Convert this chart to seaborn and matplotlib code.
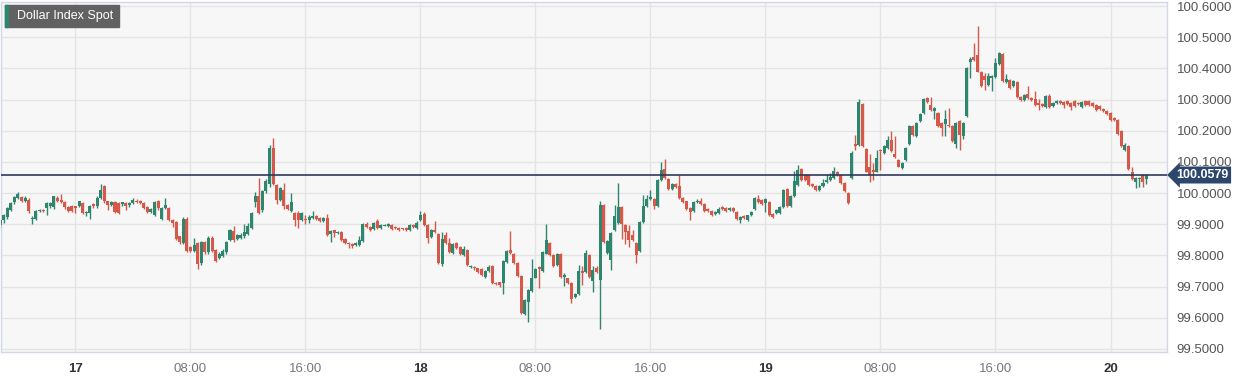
import numpy as np
import pandas as pd
import matplotlib
matplotlib.use('Agg')
import matplotlib.pyplot as plt
import matplotlib.transforms as mtransforms
from matplotlib.patches import Rectangle
import seaborn as sns

# 15분봉 OHLC (화면에서 읽은 값)
opens = [
    99.897, 99.913, 99.924, 99.946, 99.970, 99.984, 99.986, 99.973, 99.978, 99.917,
    99.918, 99.942, 99.946, 99.951, 99.957, 99.954, 99.984, 99.978, 99.970, 99.954,
    99.959, 99.957, 99.959, 99.967, 99.935, 99.937, 99.964, 99.957, 99.984, 100.022,
    99.973, 99.962, 99.970, 99.967, 99.965, 99.967, 99.962, 99.967, 99.976, 99.973,
    99.967, 99.954, 99.940, 99.929, 99.973, 99.918, 99.951, 99.951, 99.913, 99.908,
    99.861, 99.839, 99.918, 99.826, 99.815, 99.839, 99.777, 99.842, 99.810, 99.857,
    99.817, 99.793, 99.799, 99.810, 99.848, 99.878, 99.853, 99.857, 99.861, 99.870,
    99.889, 99.970, 99.989, 99.946, 100.005, 100.030, 100.145, 100.027, 99.978, 100.011,
    99.962, 99.943, 99.937, 99.935, 99.915, 99.918, 99.915,
    99.919, 99.925, 99.919, 99.909, 99.919, 99.868, 99.880, 99.871, 99.876, 99.852,
    99.841, 99.837, 99.833, 99.833, 99.847, 99.901, 99.892, 99.884, 99.909, 99.887,
    99.895, 99.895, 99.898, 99.892, 99.889, 99.887, 99.887, 99.882, 99.897, 99.887,
    99.914, 99.933, 99.898, 99.858, 99.882, 99.868, 99.772, 99.866, 99.839, 99.809,
    99.839, 99.826, 99.802, 99.817, 99.763, 99.763, 99.758, 99.755, 99.731, 99.751,
    99.767, 99.712, 99.713, 99.710, 99.780, 99.817, 99.806, 99.776, 99.733, 99.613,
    99.651, 99.686, 99.729, 99.763, 99.751, 99.806, 99.839, 99.801, 99.769, 99.806,
    99.731, 99.726, 99.712, 99.667, 99.677, 99.749, 99.747, 99.801, 99.718, 99.758,
    99.720, 99.962, 99.809, 99.785, 99.882, 99.903,
    99.954, 99.897, 99.878, 99.867, 99.839, 99.813, 99.908, 99.959, 99.980, 99.980,
    99.959, 100.041, 100.078, 100.046, 100.013, 100.030, 100.024, 99.984, 99.973, 99.951,
    99.942, 99.971, 99.976, 99.965, 99.948, 99.943, 99.933, 99.935, 99.954, 99.951,
    99.946, 99.951, 99.940, 99.913, 99.926, 99.913, 99.928, 99.948, 99.980, 99.978,
    99.967, 99.971, 99.933, 99.935, 99.935, 99.954, 100.013, 99.957, 99.991, 100.027,
    100.076, 100.057, 100.057, 100.029, 100.022, 100.011, 100.022, 100.035, 100.043, 100.049,
    100.067, 100.057, 100.033, 100.000,
    100.048, 100.158, 100.155, 100.285, 100.141, 100.085, 100.075, 100.069, 100.139, 100.128,
    100.144, 100.171, 100.126, 100.107, 100.080, 100.107, 100.158, 100.216, 100.182, 100.230,
    100.256, 100.304, 100.283, 100.262, 100.256, 100.224, 100.222, 100.219, 100.216, 100.158,
    100.230, 100.182, 100.246, 100.422, 100.436, 100.443, 100.390, 100.374, 100.347, 100.369,
    100.372, 100.415, 100.446, 100.355, 100.363, 100.342, 100.355, 100.308, 100.299, 100.318,
    100.304, 100.301, 100.288, 100.286, 100.276, 100.312, 100.280, 100.288, 100.294, 100.291,
    100.294, 100.288, 100.296, 100.288, 100.276, 100.294, 100.296, 100.288, 100.283, 100.278,
    100.269, 100.262, 100.256, 100.240, 100.235, 100.198, 100.137, 100.150, 100.066, 100.034,
    100.046, 100.059, 100.045,
]
highs = [
    99.916, 99.933, 99.955, 99.971, 99.991, 100.002, 99.990, 99.989, 99.984, 99.925,
    99.946, 99.949, 99.948, 99.970, 99.971, 99.991, 99.990, 99.998, 99.973, 99.958,
    99.962, 99.960, 99.976, 99.971, 99.944, 99.962, 99.967, 99.989, 100.030, 100.025,
    99.975, 99.975, 99.973, 99.970, 99.972, 99.970, 99.972, 99.984, 99.980, 99.978,
    99.970, 99.957, 99.952, 99.975, 99.978, 99.955, 99.984, 99.955, 99.916, 99.911,
    99.863, 99.922, 99.922, 99.830, 99.857, 99.842, 99.845, 99.845, 99.862, 99.862,
    99.820, 99.810, 99.820, 99.846, 99.885, 99.895, 99.870, 99.872, 99.900, 99.905,
    99.940, 100.002, 100.047, 100.010, 100.045, 100.155, 100.178, 100.030, 100.020, 100.033,
    99.965, 100.000, 99.940, 99.942, 99.940, 99.930, 99.930,
    99.944, 99.928, 99.922, 99.922, 99.932, 99.881, 99.883, 99.879, 99.879, 99.855,
    99.844, 99.840, 99.842, 99.862, 99.904, 99.906, 99.895, 99.906, 99.918, 99.901,
    99.900, 99.904, 99.901, 99.895, 99.892, 99.889, 99.890, 99.900, 99.900, 99.909,
    99.944, 99.938, 99.901, 99.885, 99.911, 99.871, 99.874, 99.874, 99.855, 99.840,
    99.844, 99.829, 99.830, 99.820, 99.769, 99.766, 99.761, 99.758, 99.752, 99.769,
    99.770, 99.715, 99.716, 99.786, 99.817, 99.878, 99.809, 99.779, 99.736, 99.661,
    99.693, 99.790, 99.759, 99.766, 99.813, 99.900, 99.842, 99.804, 99.809, 99.809,
    99.742, 99.729, 99.715, 99.680, 99.769, 99.767, 99.817, 99.804, 99.766, 99.767,
    99.973, 99.965, 99.849, 99.876, 99.961, 100.032,
    99.960, 99.900, 99.897, 99.880, 99.842, 99.911, 99.995, 99.995, 100.011, 99.983,
    100.044, 100.101, 100.109, 100.049, 100.033, 100.033, 100.057, 99.987, 99.976, 99.954,
    99.974, 99.980, 99.984, 99.968, 99.951, 99.946, 99.943, 99.955, 99.957, 99.954,
    99.955, 99.954, 99.943, 99.927, 99.929, 99.931, 99.943, 99.987, 99.995, 99.981,
    99.983, 99.974, 99.936, 99.949, 99.957, 100.012, 100.016, 99.994, 100.071, 100.089,
    100.079, 100.060, 100.060, 100.032, 100.025, 100.025, 100.046, 100.060, 100.063, 100.085,
    100.070, 100.060, 100.036, 100.003,
    100.134, 100.187, 100.302, 100.288, 100.144, 100.126, 100.098, 100.137, 100.142, 100.155,
    100.184, 100.200, 100.182, 100.110, 100.099, 100.147, 100.219, 100.219, 100.227, 100.256,
    100.304, 100.307, 100.308, 100.275, 100.259, 100.227, 100.267, 100.272, 100.219, 100.229,
    100.233, 100.229, 100.404, 100.438, 100.483, 100.536, 100.393, 100.385, 100.385, 100.379,
    100.433, 100.454, 100.449, 100.381, 100.366, 100.363, 100.358, 100.311, 100.318, 100.342,
    100.307, 100.326, 100.301, 100.289, 100.315, 100.318, 100.291, 100.299, 100.297, 100.294,
    100.297, 100.291, 100.299, 100.291, 100.294, 100.297, 100.299, 100.291, 100.286, 100.281,
    100.272, 100.265, 100.259, 100.243, 100.238, 100.201, 100.160, 100.153, 100.085, 100.051,
    100.053, 100.062, 100.061,
]
lows = [
    99.889, 99.905, 99.918, 99.943, 99.965, 99.982, 99.972, 99.970, 99.937, 99.902,
    99.915, 99.940, 99.940, 99.929, 99.953, 99.950, 99.970, 99.967, 99.950, 99.938,
    99.940, 99.935, 99.955, 99.932, 99.927, 99.918, 99.953, 99.953, 99.980, 99.968,
    99.945, 99.958, 99.935, 99.932, 99.960, 99.945, 99.955, 99.964, 99.968, 99.964,
    99.948, 99.936, 99.935, 99.925, 99.945, 99.915, 99.948, 99.910, 99.891, 99.850,
    99.838, 99.836, 99.810, 99.810, 99.810, 99.755, 99.770, 99.806, 99.805, 99.810,
    99.778, 99.788, 99.795, 99.806, 99.845, 99.844, 99.850, 99.853, 99.855, 99.865,
    99.885, 99.955, 99.933, 99.940, 100.000, 100.020, 100.025, 99.965, 99.975, 99.950,
    99.945, 99.940, 99.893, 99.889, 99.910, 99.902, 99.905,
    99.916, 99.913, 99.908, 99.906, 99.863, 99.844, 99.858, 99.868, 99.846, 99.836,
    99.823, 99.823, 99.830, 99.830, 99.844, 99.889, 99.879, 99.881, 99.884, 99.884,
    99.893, 99.892, 99.881, 99.884, 99.879, 99.883, 99.877, 99.879, 99.887, 99.884,
    99.911, 99.895, 99.839, 99.855, 99.871, 99.773, 99.767, 99.838, 99.809, 99.806,
    99.820, 99.801, 99.799, 99.766, 99.760, 99.754, 99.742, 99.733, 99.727, 99.748,
    99.707, 99.704, 99.700, 99.675, 99.777, 99.806, 99.773, 99.730, 99.612, 99.610,
    99.587, 99.683, 99.726, 99.694, 99.748, 99.803, 99.798, 99.764, 99.766, 99.728,
    99.701, 99.709, 99.647, 99.664, 99.674, 99.704, 99.744, 99.728, 99.683, 99.744,
    99.565, 99.841, 99.806, 99.753, 99.879, 99.900,
    99.853, 99.837, 99.826, 99.846, 99.777, 99.810, 99.905, 99.955, 99.977, 99.948,
    99.955, 100.038, 100.046, 100.010, 100.010, 100.017, 99.980, 99.967, 99.945, 99.913,
    99.939, 99.968, 99.962, 99.939, 99.940, 99.926, 99.930, 99.932, 99.947, 99.940,
    99.943, 99.940, 99.913, 99.905, 99.918, 99.910, 99.925, 99.945, 99.967, 99.962,
    99.940, 99.926, 99.921, 99.932, 99.932, 99.951, 99.954, 99.954, 99.988, 100.024,
    100.040, 100.038, 100.024, 100.019, 100.006, 100.008, 100.019, 100.032, 100.040, 100.046,
    100.054, 100.030, 100.002, 99.964,
    100.045, 100.139, 100.152, 100.147, 100.066, 100.037, 100.043, 100.066, 100.075, 100.125,
    100.141, 100.133, 100.112, 100.082, 100.077, 100.104, 100.155, 100.184, 100.179, 100.227,
    100.253, 100.288, 100.262, 100.237, 100.211, 100.182, 100.182, 100.211, 100.163, 100.144,
    100.139, 100.174, 100.243, 100.369, 100.424, 100.387, 100.339, 100.331, 100.344, 100.326,
    100.369, 100.412, 100.355, 100.352, 100.334, 100.339, 100.305, 100.296, 100.296, 100.301,
    100.294, 100.280, 100.267, 100.277, 100.273, 100.273, 100.277, 100.285, 100.285, 100.272,
    100.283, 100.267, 100.275, 100.283, 100.273, 100.280, 100.280, 100.277, 100.262, 100.266,
    100.259, 100.251, 100.230, 100.232, 100.187, 100.147, 100.134, 100.074, 100.042, 100.016,
    100.021, 100.021, 100.030,
]
closes = [
    99.913, 99.929, 99.951, 99.967, 99.987, 99.997, 99.976, 99.984, 99.942, 99.921,
    99.942, 99.946, 99.943, 99.967, 99.967, 99.989, 99.973, 99.970, 99.954, 99.942,
    99.943, 99.953, 99.973, 99.937, 99.940, 99.959, 99.957, 99.984, 100.011, 99.973,
    99.962, 99.970, 99.940, 99.937, 99.970, 99.957, 99.967, 99.978, 99.972, 99.967,
    99.951, 99.940, 99.949, 99.971, 99.951, 99.951, 99.962, 99.913, 99.904, 99.853,
    99.842, 99.918, 99.815, 99.815, 99.832, 99.772, 99.842, 99.810, 99.857, 99.815,
    99.783, 99.804, 99.815, 99.842, 99.880, 99.848, 99.864, 99.866, 99.875, 99.893,
    99.935, 99.991, 99.937, 100.005, 100.038, 100.145, 100.030, 99.978, 100.016, 99.957,
    99.948, 99.970, 99.915, 99.913, 99.935, 99.913, 99.924,
    99.927, 99.916, 99.911, 99.919, 99.866, 99.878, 99.871, 99.876, 99.849, 99.839,
    99.837, 99.830, 99.839, 99.849, 99.901, 99.892, 99.882, 99.903, 99.887, 99.898,
    99.898, 99.901, 99.884, 99.887, 99.882, 99.885, 99.880, 99.897, 99.890, 99.905,
    99.930, 99.898, 99.855, 99.882, 99.874, 99.776, 99.852, 99.841, 99.812, 99.837,
    99.823, 99.804, 99.819, 99.769, 99.766, 99.758, 99.747, 99.737, 99.749, 99.763,
    99.710, 99.708, 99.704, 99.783, 99.814, 99.809, 99.776, 99.733, 99.615, 99.658,
    99.690, 99.726, 99.756, 99.756, 99.810, 99.849, 99.801, 99.767, 99.806, 99.731,
    99.737, 99.712, 99.661, 99.677, 99.751, 99.744, 99.809, 99.731, 99.753, 99.747,
    99.962, 99.844, 99.846, 99.873, 99.925, 99.955,
    99.902, 99.875, 99.848, 99.850, 99.802, 99.908, 99.959, 99.980, 99.986, 99.959,
    100.041, 100.074, 100.049, 100.013, 100.030, 100.020, 99.984, 99.970, 99.948, 99.940,
    99.971, 99.975, 99.965, 99.942, 99.943, 99.929, 99.940, 99.948, 99.950, 99.943,
    99.951, 99.943, 99.916, 99.924, 99.921, 99.928, 99.940, 99.984, 99.970, 99.965,
    99.980, 99.929, 99.924, 99.946, 99.954, 100.009, 99.957, 99.991, 100.038, 100.074,
    100.043, 100.041, 100.027, 100.022, 100.009, 100.022, 100.033, 100.043, 100.052, 100.071,
    100.057, 100.033, 100.005, 99.967,
    100.130, 100.150, 100.291, 100.150, 100.069, 100.059, 100.069, 100.112, 100.135, 100.152,
    100.171, 100.136, 100.115, 100.085, 100.096, 100.144, 100.216, 100.187, 100.224, 100.253,
    100.301, 100.291, 100.265, 100.272, 100.214, 100.208, 100.237, 100.214, 100.166, 100.226,
    100.187, 100.226, 100.401, 100.429, 100.427, 100.390, 100.342, 100.363, 100.374, 100.374,
    100.417, 100.449, 100.358, 100.365, 100.337, 100.358, 100.308, 100.299, 100.315, 100.304,
    100.297, 100.283, 100.283, 100.280, 100.312, 100.276, 100.288, 100.294, 100.288, 100.283,
    100.286, 100.276, 100.278, 100.286, 100.291, 100.283, 100.283, 100.280, 100.265, 100.269,
    100.262, 100.254, 100.233, 100.235, 100.190, 100.150, 100.155, 100.077, 100.045, 100.048,
    100.048, 100.037, 100.058,
]

last_price = 100.0579
first_hour = -5.25      # 첫 봉: 16일 18:45 (17일 00:00 = 0)
bar_hours = 0.25        # 15분봉

tick_hours = [0, 8, 16, 24, 32, 40, 48, 56, 64, 72]
tick_labels = ['17', '08:00', '16:00', '18', '08:00', '16:00', '19', '08:00', '16:00', '20']
y_ticks = [99.5, 99.6, 99.7, 99.8, 99.9, 100.0, 100.1, 100.2, 100.3, 100.4, 100.5, 100.6]

df = pd.DataFrame({'open': opens, 'high': highs, 'low': lows, 'close': closes})
df['hour'] = first_hour + bar_hours * np.arange(len(df))
df['up'] = df['close'] >= df['open']

green = '#2e866e'
red = '#d65848'
colors = np.where(df['up'], green, red)

sns.set_style('whitegrid', {'axes.facecolor': '#f7f7f7', 'grid.color': '#e4e4e4',
                            'axes.edgecolor': '#d3d7ea'})
plt.rcParams['font.family'] = ['Liberation Sans', 'DejaVu Sans']

fig = plt.figure(figsize=(12.44, 3.79), dpi=100)
ax = fig.add_axes([1 / 1244, 27 / 379, 1166 / 1244, 350 / 379])

# 꼬리
ax.vlines(df['hour'], df['low'], df['high'], colors=colors, linewidth=1.0, zorder=3)
# 몸통
body_low = df[['open', 'close']].min(axis=1)
body_h = (df['close'] - df['open']).abs().clip(lower=0.003)
ax.bar(df['hour'], body_h, bottom=body_low, width=0.21, color=colors, linewidth=0, zorder=4)

# 현재가 선
ax.axhline(last_price, color='#2b3a5c', linewidth=1.2, zorder=5)

ax.set_xlim(-5.18, 75.93)
ax.set_ylim(99.49, 100.613)

ax.set_xticks(tick_hours)
ax.set_xticklabels(tick_labels)
for lab in ax.get_xticklabels():
    if ':' in lab.get_text():
        lab.set_color('#777777')
        lab.set_fontweight('normal')
    else:
        lab.set_color('#333333')
        lab.set_fontweight('bold')
    lab.set_fontsize(9.5)
ax.tick_params(axis='x', length=0, pad=8)

ax.yaxis.tick_right()
ax.set_yticks(y_ticks)
ax.set_yticklabels(['%.4f' % v for v in y_ticks])
ax.tick_params(axis='y', length=0, pad=7, labelsize=9.5, labelcolor='#555555')

ax.grid(True, color='#e4e4e4', linewidth=1)
for s in ax.spines.values():
    s.set_color('#d3d7ea')
    s.set_linewidth(1)

# 현재가 태그
trans = mtransforms.blended_transform_factory(ax.transAxes, ax.transData)
ax.text(1.008, last_price, '%.4f' % last_price, transform=trans, ha='left', va='center',
        color='white', fontsize=9, fontweight='bold', clip_on=False, zorder=6,
        bbox=dict(boxstyle='larrow,pad=0.2', fc='#2c466c', ec='none'))

# 제목 박스
fig.patches.append(Rectangle((5 / 1244, 1 - 27 / 379), 114 / 1244, 22 / 379,
                             transform=fig.transFigure, color='#616161', zorder=9))
fig.patches.append(Rectangle((5 / 1244, 1 - 27 / 379), 3 / 1244, 22 / 379,
                             transform=fig.transFigure, color='#2e866e', zorder=10))
fig.text(17 / 1244, 1 - 16 / 379, 'Dollar Index Spot', color='white', fontsize=9,
         va='center', ha='left', zorder=11)

fig.savefig('out.png', dpi=100, facecolor='white')
